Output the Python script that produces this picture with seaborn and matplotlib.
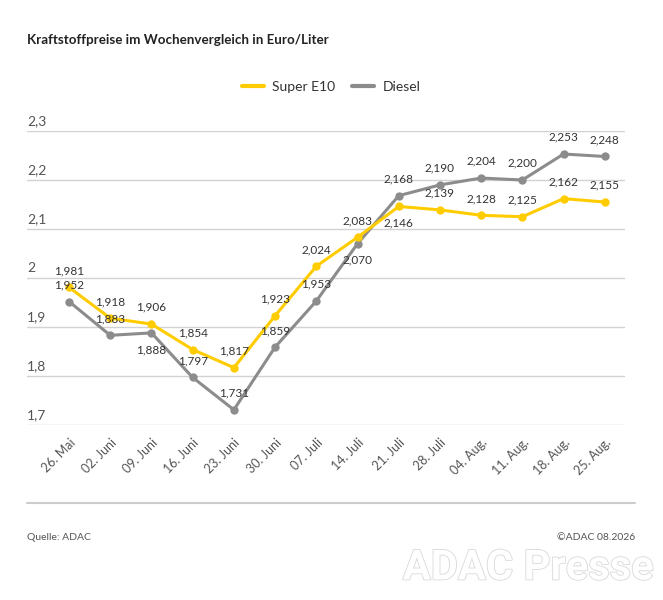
import pandas as pd
import matplotlib.pyplot as plt
import matplotlib.patheffects as pe
from matplotlib.lines import Line2D
import seaborn as sns

sns.set_style("white")
plt.rcParams['font.family'] = ['Lato', 'DejaVu Sans']

# ===============================
# Data
# ===============================

weeks = ["26. Mai", "02. Juni", "09. Juni", "16. Juni", "23. Juni", "30. Juni",
         "07. Juli", "14. Juli", "21. Juli", "28. Juli", "04. Aug.", "11. Aug.",
         "18. Aug.", "25. Aug."]
super_e10 = [1.981, 1.918, 1.906, 1.854, 1.817, 1.923, 2.024, 2.083,
             2.146, 2.139, 2.128, 2.125, 2.162, 2.155]
diesel = [1.952, 1.883, 1.888, 1.797, 1.731, 1.859, 1.953, 2.070,
          2.168, 2.190, 2.204, 2.200, 2.253, 2.248]

# labels placed below the point instead of above
below_super = ["21. Juli"]
below_diesel = ["09. Juni", "14. Juli"]

yticks = [1.7, 1.8, 1.9, 2.0, 2.1, 2.2, 2.3]

YELLOW = "#FFCC00"
GREY = "#8C8C8C"

df = pd.DataFrame({
    "Woche": weeks * 2,
    "Preis": super_e10 + diesel,
    "Sorte": ["Super E10"] * len(weeks) + ["Diesel"] * len(weeks),
})

# ===============================
# Plot
# ===============================

fig = plt.figure(figsize=(6.63, 6.0), dpi=100)
ax = fig.add_axes([27 / 663, 175 / 600, 598 / 663, 294 / 600])

sns.lineplot(
    data=df, x="Woche", y="Preis", hue="Sorte",
    palette={"Super E10": YELLOW, "Diesel": GREY},
    hue_order=["Diesel", "Super E10"],
    marker="o", markersize=6, markeredgewidth=0,
    linewidth=2.2, sort=False, legend=False, ax=ax,
)

ax.set_xlim(-1.02, 13.49)
ax.set_ylim(1.7, 2.3)
ax.set_yticks(yticks)
ax.set_yticklabels([])
ax.tick_params(axis="y", length=0)
ax.grid(axis="y", color="#d2d2d2", linewidth=1)
ax.grid(axis="x", visible=False)
for s in ax.spines.values():
    s.set_visible(False)
ax.set_xlabel("")
ax.set_ylabel("")

ax.set_xticks(range(len(weeks)))
ax.set_xticklabels(weeks, rotation=45, ha="right", rotation_mode="anchor",
                   fontsize=9, color="#555555")
ax.tick_params(axis="x", length=0, pad=8)

# y tick labels sit above the grid line
for v in yticks:
    txt = f"{v:.1f}".replace(".", ",")
    if txt == "2,0":
        txt = "2"
    ax.text(0, v + 0.008, txt, transform=ax.get_yaxis_transform(),
            ha="left", va="bottom", fontsize=10, color="#555555")

# value labels
for i, w in enumerate(weeks):
    for vals, below in [(super_e10, below_super), (diesel, below_diesel)]:
        v = vals[i]
        lab = f"{v:.3f}".replace(".", ",")
        off = -12 if w in below else 12
        ax.annotate(lab, (i, v), xytext=(0, off), textcoords="offset points",
                    ha="center", va="center", fontsize=8.5, color="#333333",
                    annotation_clip=False)

# legend
handles = [Line2D([0], [0], color=YELLOW, linewidth=3),
           Line2D([0], [0], color=GREY, linewidth=3)]
fig.legend(handles, ["Super E10", "Diesel"], loc="center",
           bbox_to_anchor=(331 / 663, 1 - 87 / 600), ncol=2, frameon=False,
           fontsize=10, handlelength=1.6, handletextpad=0.6, columnspacing=1.2,
           labelcolor="#333333")

# title and footer
fig.text(27 / 663, 1 - 40 / 600, "Kraftstoffpreise im Wochenvergleich in Euro/Liter",
         ha="left", va="center", fontsize=9.6, fontweight="bold", color="#222222")
fig.add_artist(Line2D([27 / 663, 635 / 663], [1 - 503 / 600, 1 - 503 / 600],
                      color="#cccccc", linewidth=1.5))
fig.text(27 / 663, 1 - 538 / 600, "Quelle: ADAC", ha="left", va="center",
         fontsize=7.5, color="#555555")
fig.text(635 / 663, 1 - 538 / 600, "\u00a9ADAC 08.2026", ha="right", va="center",
         fontsize=7.5, color="#555555")
fig.text(653 / 663, 1 - 568 / 600, "ADAC Presse", ha="right", va="center",
         fontsize=30, fontweight="bold", family=["Roboto", "DejaVu Sans"],
         color="white",
         path_effects=[pe.withStroke(linewidth=1.2, foreground="#d8d8d8")])

plt.savefig("out.png", dpi=100)
